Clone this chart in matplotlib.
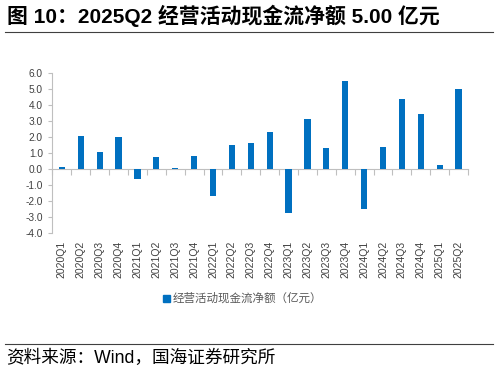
import matplotlib
matplotlib.use('Agg')
import matplotlib.pyplot as plt
import matplotlib.transforms as mtransforms
from matplotlib.patches import Rectangle

plt.rcParams['font.family'] = ['Liberation Sans', 'Noto Sans CJK SC', 'DejaVu Sans']

# =====================================
# DATA
# =====================================

quarters = ['2020Q1', '2020Q2', '2020Q3', '2020Q4',
            '2021Q1', '2021Q2', '2021Q3', '2021Q4',
            '2022Q1', '2022Q2', '2022Q3', '2022Q4',
            '2023Q1', '2023Q2', '2023Q3', '2023Q4',
            '2024Q1', '2024Q2', '2024Q3', '2024Q4',
            '2025Q1', '2025Q2']
cash_flow = [0.13, 2.08, 1.08, 1.99,
             -0.65, 0.75, 0.06, 0.81,
             -1.66, 1.48, 1.65, 2.29,
             -2.75, 3.15, 1.29, 5.52,
             -2.50, 1.37, 4.35, 3.43,
             0.27, 5.00]
y_ticks = [6.0, 5.0, 4.0, 3.0, 2.0, 1.0, 0.0, -1.0, -2.0, -3.0, -4.0]

title = '图 10：2025Q2 经营活动现金流净额 5.00 亿元'
legend_label = '经营活动现金流净额（亿元）'
source = '资料来源：Wind，国海证券研究所'

bar_color = '#0070C0'
axis_color = '#BFBFBF'
text_color = '#595959'

# =====================================
# FIGURE
# =====================================

fig = plt.figure(figsize=(4.98, 3.72), dpi=100)
ax = fig.add_axes([0.1054, 0.3737, 0.8344, 0.4301])

x = list(range(len(quarters)))
ax.bar(x, cash_flow, width=0.33, color=bar_color, zorder=3)

ax.set_xlim(-0.5, len(quarters) - 0.5)
ax.set_ylim(-4, 6)
ax.set_yticks(y_ticks)
ax.set_yticklabels([f'{v:.1f}' for v in y_ticks], fontsize=7.3, color='#404040')

# zero line with category separators
for side in ['top', 'right']:
    ax.spines[side].set_visible(False)
ax.spines['bottom'].set_position(('data', 0))
ax.spines['bottom'].set_color(axis_color)
ax.spines['left'].set_color(axis_color)
ax.set_xticks([i - 0.5 for i in range(len(quarters) + 1)])
ax.set_xticklabels([])
ax.tick_params(axis='x', direction='out', length=4, color=axis_color)
ax.tick_params(axis='y', direction='out', length=3, color=axis_color, pad=4)

# category labels below the plot area
trans = mtransforms.blended_transform_factory(ax.transData, ax.transAxes)
for i, q in enumerate(quarters):
    ax.text(i, -0.05, q, transform=trans, rotation=90, ha='center', va='top',
            fontsize=7.5, color='#404040')

# legend
fig.patches.append(Rectangle((0.327, 0.188), 0.015, 0.018, color=bar_color,
                             transform=fig.transFigure, figure=fig))
fig.text(0.347, 0.196, legend_label, fontsize=8.3, color=text_color, va='center')

# title, rules and source
fig.text(0.014, 0.958, title, fontsize=15, fontweight='bold', va='center')
fig.add_artist(plt.Line2D([0.01, 0.99], [0.915, 0.915], color='#404040', lw=0.8))
fig.add_artist(plt.Line2D([0.01, 0.99], [0.075, 0.075], color='#404040', lw=0.8))
fig.text(0.012, 0.037, source, fontsize=12.7, va='center')

fig.savefig('out.png', dpi=100)
